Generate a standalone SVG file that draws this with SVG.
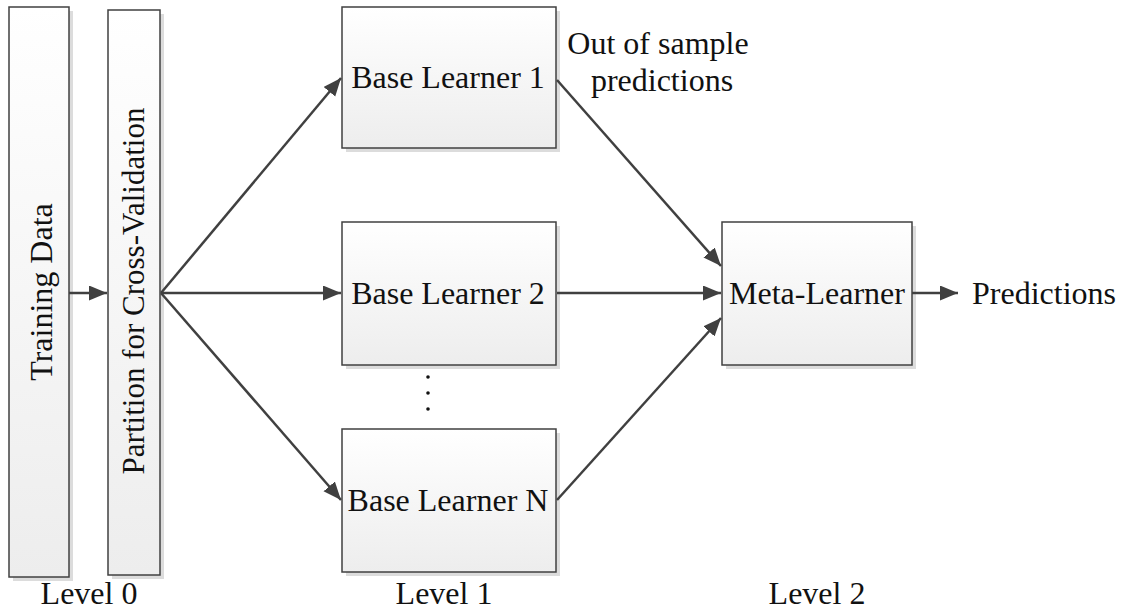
<svg xmlns="http://www.w3.org/2000/svg" width="1126" height="611" viewBox="0 0 1126 611">
<style>
  .box{fill:url(#g);stroke:#404040;stroke-width:1.5}
  .sh{fill:#dcdcdc}
  .t{font-size:32px;fill:#111}
  .c{stroke:#404040;stroke-width:2.5;fill:none;marker-end:url(#a)}
</style>
<defs>
  <linearGradient id="g" x1="0" y1="0" x2="0" y2="1">
    <stop offset="0" stop-color="#ffffff"/>
    <stop offset="1" stop-color="#ededed"/>
  </linearGradient>
  <marker id="a" markerUnits="userSpaceOnUse" markerWidth="20" markerHeight="16" refX="18" refY="7.5" orient="auto">
    <path d="M0,0 L18,7.5 L0,15 Z" fill="#404040"/>
  </marker>
</defs>
<rect width="1126" height="611" fill="#fff"/>
<g font-family="Liberation Serif, DejaVu Serif, serif">
<g id="training-data">
  <rect class="sh" x="13" y="11" width="60" height="570"/>
  <rect class="box" x="9" y="7" width="60" height="570"/>
  <text class="t" text-anchor="middle" transform="translate(52,292) rotate(-90)">Training Data</text>
</g>
<g id="partition">
  <rect class="sh" x="112" y="14" width="52" height="565"/>
  <rect class="box" x="108" y="10" width="52" height="565"/>
  <text class="t" text-anchor="middle" transform="translate(144,291) rotate(-90)" style="font-size:31px">Partition for Cross-Validation</text>
</g>
<g id="base-learner-1">
  <rect class="sh" x="346" y="11" width="214" height="141"/>
  <rect class="box" x="342" y="7" width="214" height="141"/>
  <text class="t" x="448" y="88" text-anchor="middle">Base Learner 1</text>
</g>
<g id="base-learner-2">
  <rect class="sh" x="346" y="226" width="214" height="143"/>
  <rect class="box" x="342" y="222" width="214" height="143"/>
  <text class="t" x="448" y="304" text-anchor="middle">Base Learner 2</text>
</g>
<g id="dots" fill="#111">
  <circle cx="428" cy="377" r="1.8"/>
  <circle cx="428" cy="393" r="1.8"/>
  <circle cx="428" cy="409" r="1.8"/>
</g>
<g id="base-learner-n">
  <rect class="sh" x="346" y="433" width="214" height="143"/>
  <rect class="box" x="342" y="429" width="214" height="143"/>
  <text class="t" x="448" y="511" text-anchor="middle">Base Learner N</text>
</g>
<g id="meta-learner">
  <rect class="sh" x="726" y="226" width="190" height="143"/>
  <rect class="box" x="722" y="222" width="190" height="143"/>
  <text class="t" x="817" y="304" text-anchor="middle">Meta-Learner</text>
</g>
<g id="predictions">
  <text class="t" x="972" y="304">Predictions</text>
</g>
<g id="oos-label">
  <text class="t" x="658" y="54" text-anchor="middle">Out of sample</text>
  <text class="t" x="662" y="91" text-anchor="middle">predictions</text>
</g>
<g id="levels">
  <text class="t" x="89" y="604" text-anchor="middle">Level 0</text>
  <text class="t" x="444" y="604" text-anchor="middle">Level 1</text>
  <text class="t" x="817" y="604" text-anchor="middle">Level 2</text>
</g>
</g>
<g id="connectors">
  <line class="c" x1="69" y1="293" x2="107" y2="293"/>
  <line class="c" x1="161" y1="293" x2="341" y2="78"/>
  <line class="c" x1="161" y1="293" x2="341" y2="293"/>
  <line class="c" x1="161" y1="293" x2="341" y2="500"/>
  <line class="c" x1="557" y1="80" x2="721" y2="266"/>
  <line class="c" x1="557" y1="293" x2="721" y2="293"/>
  <line class="c" x1="557" y1="500" x2="721" y2="318"/>
  <line class="c" x1="912" y1="293" x2="958" y2="293"/>
</g>
</svg>
